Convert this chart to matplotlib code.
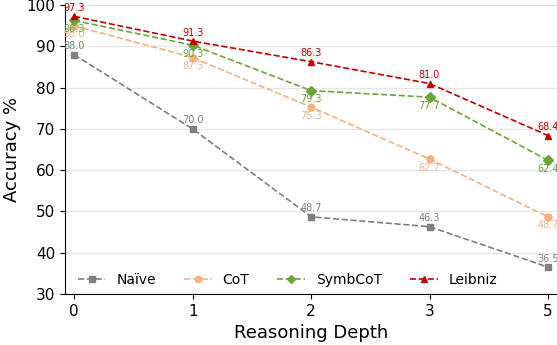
import matplotlib
matplotlib.use('Agg')
import matplotlib.pyplot as plt

depths = ['0', '1', '2', '3', '5']
naive = [88.0, 70.0, 48.7, 46.3, 36.5]
cot = [95.0, 87.3, 75.3, 62.7, 48.7]
symbcot = [96.3, 90.3, 79.3, 77.7, 62.4]
leibniz = [97.3, 91.3, 86.3, 81.0, 68.4]

series = [
    ('Naïve', naive, '#808080', 's', 'above'),
    ('CoT', cot, '#f4b183', 'o', 'below'),
    ('SymbCoT', symbcot, '#6aa63a', 'D', 'below'),
    ('Leibniz', leibniz, '#c00000', '^', 'above'),
]

fig, ax = plt.subplots(figsize=(5.57, 3.45), dpi=100)
x = list(range(len(depths)))

for name, vals, color, marker, pos in series:
    ax.plot(x, vals, linestyle='--', marker=marker, color=color,
            markersize=5, linewidth=1.2, label=name)
    for xi, v in zip(x, vals):
        if pos == 'above':
            ax.annotate(f"{v:.1f}", (xi, v), xytext=(0, 2.5), textcoords='offset points',
                        ha='center', va='bottom', fontsize=7, color=color)
        else:
            ax.annotate(f"{v:.1f}", (xi, v), xytext=(0, -2.5), textcoords='offset points',
                        ha='center', va='top', fontsize=7, color=color)

ax.set_xticks(x)
ax.set_xticklabels(depths)
ax.set_xlim(-0.076, 4.076)
ax.set_ylim(30, 100)
ax.set_yticks(range(30, 101, 10))
ax.tick_params(labelsize=11)
ax.set_xlabel('Reasoning Depth', fontsize=13)
ax.set_ylabel('Accuracy %', fontsize=13)
ax.grid(axis='y', color='#e6e6e6', linewidth=1)
ax.set_axisbelow(True)
ax.spines['top'].set_visible(False)
ax.spines['right'].set_visible(False)
ax.legend(loc='lower left', bbox_to_anchor=(0.0, -0.02), ncol=4, frameon=False,
          fontsize=10, markerscale=0.9)

plt.subplots_adjust(left=0.117, right=1.0, top=0.985, bottom=0.148)
plt.savefig('out.png', dpi=100)
